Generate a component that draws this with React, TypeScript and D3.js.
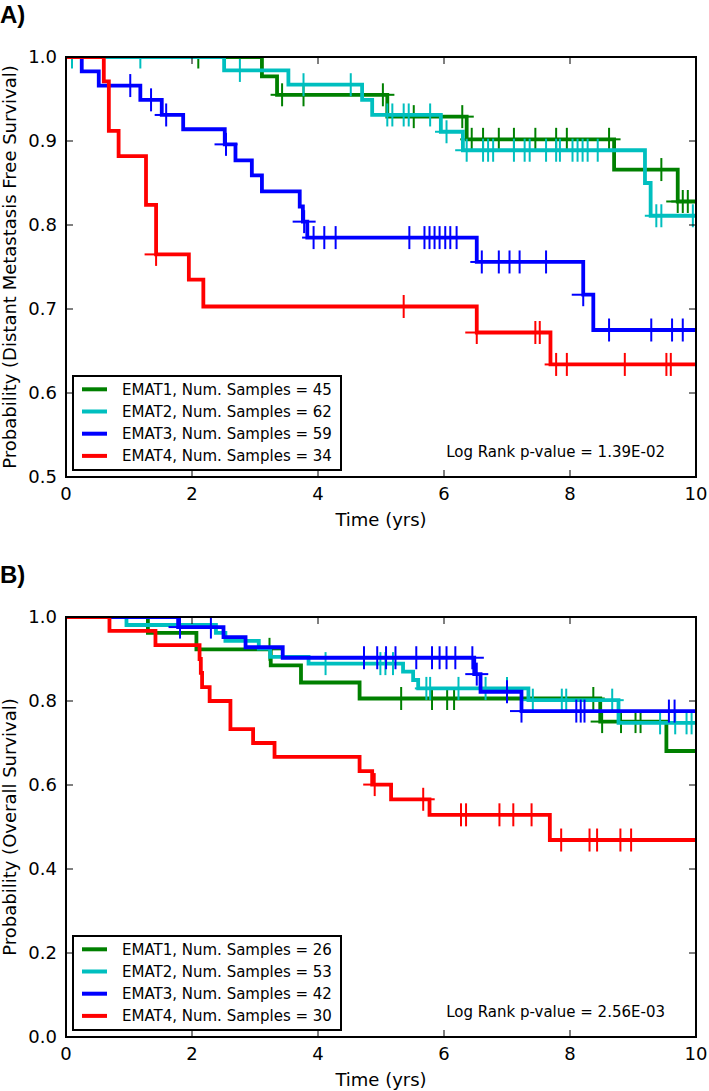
import React from "react";
import * as d3 from "d3";

// ---------- shared axis data ----------
const X_TICKS = [0, 2, 4, 6, 8, 10];
const A_Y_TICKS = [0.5, 0.6, 0.7, 0.8, 0.9, 1.0];
const B_Y_TICKS = [0.0, 0.2, 0.4, 0.6, 0.8, 1.0];
const SERIES_NAMES = ["EMAT1", "EMAT2", "EMAT3", "EMAT4"];
const SERIES_COLORS = ["#008000", "#00BFBF", "#0000FF", "#FF0000"];
const A_SAMPLES = [45, 62, 59, 34];
const B_SAMPLES = [26, 53, 42, 30];
const A_PVALUE = "1.39E-02";
const B_PVALUE = "2.56E-03";

// ---------- Panel A: distant metastasis free survival ----------
const A1_eventTimes = [3.11, 3.35, 5.10, 6.36, 8.70, 9.71];
const A1_eventSurv = [0.977, 0.955, 0.929, 0.902, 0.866, 0.828];
const A1_censor = [2.10, 3.43, 3.77, 5.03, 5.52, 6.29, 6.44, 6.62, 6.87, 7.11, 7.45, 7.78, 7.95, 8.62, 9.45, 9.71, 9.79, 9.87];

const A2_eventTimes = [2.51, 3.53, 4.70, 4.86, 5.95, 6.30, 9.19, 9.28];
const A2_eventSurv = [0.984, 0.967, 0.949, 0.931, 0.911, 0.889, 0.850, 0.811];
const A2_censor = [0.095, 1.18, 2.76, 3.77, 4.52, 5.10, 5.18, 5.36, 5.44, 5.78, 6.04, 6.36, 6.62, 6.70, 6.78, 7.11, 7.28, 7.36, 7.62, 7.78, 7.84, 8.04, 8.12, 8.20, 8.28, 8.44, 9.37, 9.45, 9.95];

const A3_eventTimes = [0.25, 0.52, 1.18, 1.52, 1.86, 2.52, 2.69, 2.95, 3.11, 3.71, 3.76, 3.83, 6.52, 8.21, 8.37];
const A3_eventSurv = [0.983, 0.966, 0.949, 0.931, 0.914, 0.896, 0.877, 0.859, 0.840, 0.822, 0.804, 0.785, 0.756, 0.717, 0.675];
const A3_censor = [1.02, 1.35, 1.59, 2.54, 3.78, 3.93, 4.10, 4.28, 5.45, 5.69, 5.77, 5.85, 5.93, 6.02, 6.10, 6.20, 6.60, 6.87, 7.04, 7.20, 7.62, 8.21, 8.62, 9.29, 9.62, 9.79];

const A4_eventTimes = [0.60, 0.68, 0.835, 1.27, 1.43, 1.95, 2.18, 6.52, 7.69];
const A4_eventSurv = [0.971, 0.912, 0.882, 0.824, 0.765, 0.735, 0.703, 0.672, 0.634];
const A4_censor = [1.43, 5.36, 6.52, 7.45, 7.52, 7.78, 7.95, 8.87, 9.53, 9.60];

// ---------- Panel B: overall survival ----------
const B1_eventTimes = [1.30, 2.07, 3.25, 3.73, 4.66, 8.48, 9.53];
const B1_eventSurv = [0.962, 0.923, 0.885, 0.844, 0.806, 0.751, 0.681];
const B1_censor = [3.23, 5.32, 5.81, 6.05, 6.16, 8.37, 8.51, 8.81, 9.04, 9.12];

const B2_eventTimes = [0.96, 2.38, 2.53, 3.06, 3.24, 3.85, 5.35, 5.51, 5.59, 7.34, 8.77];
const B2_eventSurv = [0.981, 0.962, 0.943, 0.925, 0.905, 0.889, 0.870, 0.850, 0.830, 0.802, 0.748];
const B2_censor = [4.12, 4.99, 5.07, 5.19, 5.72, 5.78, 6.23, 6.66, 7.00, 7.41, 7.87, 7.94, 8.67, 9.43, 9.67, 9.85, 9.93];

const B3_eventTimes = [1.78, 2.50, 2.85, 3.44, 6.48, 6.58, 7.23];
const B3_eventSurv = [0.976, 0.952, 0.928, 0.903, 0.864, 0.822, 0.776];
const B3_censor = [1.81, 2.30, 4.73, 4.94, 5.08, 5.23, 5.56, 5.81, 5.93, 6.04, 6.18, 6.45, 6.52, 7.00, 7.23, 8.10, 8.17, 8.23, 9.57, 9.66];

const B4_eventTimes = [0.69, 1.42, 2.12, 2.14, 2.16, 2.28, 2.61, 2.97, 3.31, 4.66, 4.86, 5.16, 5.77, 7.68];
const B4_eventSurv = [0.967, 0.933, 0.900, 0.867, 0.833, 0.800, 0.733, 0.700, 0.667, 0.633, 0.601, 0.566, 0.529, 0.469];
const B4_censor = [4.90, 5.67, 6.27, 6.35, 6.88, 7.10, 7.39, 7.86, 8.31, 8.43, 8.80, 8.97];

type Series = { times: number[]; surv: number[]; censor: number[] };

const A_SERIES: Series[] = [
  { times: A1_eventTimes, surv: A1_eventSurv, censor: A1_censor },
  { times: A2_eventTimes, surv: A2_eventSurv, censor: A2_censor },
  { times: A3_eventTimes, surv: A3_eventSurv, censor: A3_censor },
  { times: A4_eventTimes, surv: A4_eventSurv, censor: A4_censor },
];
const B_SERIES: Series[] = [
  { times: B1_eventTimes, surv: B1_eventSurv, censor: B1_censor },
  { times: B2_eventTimes, surv: B2_eventSurv, censor: B2_censor },
  { times: B3_eventTimes, surv: B3_eventSurv, censor: B3_censor },
  { times: B4_eventTimes, surv: B4_eventSurv, censor: B4_censor },
];

const FONT = "'DejaVu Sans', sans-serif";
const LEFT = 66;
const RIGHT = 696;
const X_MAX = 10;

function survAt(s: Series, t: number) {
  let v = 1;
  for (let i = 0; i < s.times.length; i++) {
    if (s.times[i] <= t + 1e-9) v = s.surv[i];
  }
  return v;
}

function Panel(props: {
  id: string;
  top: number;
  bottom: number;
  yMin: number;
  yTicks: number[];
  series: Series[];
  samples: number[];
  pvalue: string;
  yLabel: string;
  panelLabel: string;
}) {
  const { id, top, bottom, yMin, yTicks, series, samples, pvalue, yLabel, panelLabel } = props;
  const x = d3.scaleLinear().domain([0, X_MAX]).range([LEFT, RIGHT]);
  const y = d3.scaleLinear().domain([yMin, 1]).range([bottom, top]);
  const line = d3
    .line<[number, number]>()
    .x((d) => x(d[0]))
    .y((d) => y(d[1]))
    .curve(d3.curveStepAfter);
  const half = 11.5;
  const legTop = bottom - 7 - 94;
  const legLeft = 73;
  return (
    <g>
      <defs>
        <clipPath id={`clip-${id}`}>
          <rect x={LEFT} y={top} width={RIGHT - LEFT} height={bottom - top} />
        </clipPath>
      </defs>
      <text x={0} y={top - 34} fontFamily="'Liberation Sans', Arial, sans-serif" fontWeight="bold" fontSize={24}>
        {panelLabel}
      </text>
      <g clipPath={`url(#clip-${id})`}>
        {series.map((s, i) => {
          const pts: [number, number][] = [[0, 1]];
          s.times.forEach((t, k) => pts.push([t, s.surv[k]]));
          pts.push([X_MAX, s.surv[s.surv.length - 1]]);
          return (
            <g key={i}>
              <path d={line(pts) || ""} fill="none" stroke={SERIES_COLORS[i]} strokeWidth={3.8} strokeLinejoin="miter" />
              {s.censor.map((c, k) => {
                const cx = x(c);
                const cy = y(survAt(s, c));
                return (
                  <g key={k} stroke={SERIES_COLORS[i]} strokeWidth={2}>
                    <line x1={cx - half} x2={cx + half} y1={cy} y2={cy} />
                    <line x1={cx} x2={cx} y1={cy - half} y2={cy + half} />
                  </g>
                );
              })}
            </g>
          );
        })}
      </g>
      {/* ticks */}
      {X_TICKS.map((t) => (
        <g key={"xt" + t} stroke="black" strokeWidth={1}>
          <line x1={x(t)} x2={x(t)} y1={bottom} y2={bottom - 7} />
          <line x1={x(t)} x2={x(t)} y1={top} y2={top + 7} />
        </g>
      ))}
      {yTicks.map((t) => (
        <g key={"yt" + t} stroke="black" strokeWidth={1}>
          <line x1={LEFT} x2={LEFT + 7} y1={y(t)} y2={y(t)} />
          <line x1={RIGHT} x2={RIGHT - 7} y1={y(t)} y2={y(t)} />
        </g>
      ))}
      <rect x={LEFT} y={top} width={RIGHT - LEFT} height={bottom - top} fill="none" stroke="black" strokeWidth={2} />
      {X_TICKS.map((t) => (
        <text key={"xl" + t} x={x(t)} y={bottom + 23} textAnchor="middle" fontFamily={FONT} fontSize={18}>
          {String(t)}
        </text>
      ))}
      {yTicks.map((t) => (
        <text key={"yl" + t} x={57} y={y(t)} dy="0.36em" textAnchor="end" fontFamily={FONT} fontSize={18}>
          {t.toFixed(1)}
        </text>
      ))}
      <text x={(LEFT + RIGHT) / 2} y={bottom + 49} textAnchor="middle" fontFamily={FONT} fontSize={18}>
        Time (yrs)
      </text>
      <text
        transform={`translate(16,${(top + bottom) / 2}) rotate(-90)`}
        textAnchor="middle"
        fontFamily={FONT}
        fontSize={18}
      >
        {yLabel}
      </text>
      {/* legend */}
      <rect x={legLeft} y={legTop} width={268} height={94} fill="white" stroke="black" strokeWidth={2} />
      {SERIES_NAMES.map((n, i) => {
        const cy = legTop + 13.3 + 22.2 * i;
        return (
          <g key={"lg" + i}>
            <line x1={legLeft + 9} x2={legLeft + 34} y1={cy} y2={cy} stroke={SERIES_COLORS[i]} strokeWidth={4} />
            <text x={legLeft + 49} y={cy} dy="0.36em" fontFamily={FONT} fontSize={15}>
              {`${n}, Num. Samples = ${samples[i]}`}
            </text>
          </g>
        );
      })}
      <text x={665} y={bottom - 20} textAnchor="end" fontFamily={FONT} fontSize={15}>
        {`Log Rank p-value = ${pvalue}`}
      </text>
    </g>
  );
}

export default function App() {
  return (
    <svg
      width={709}
      height={1091}
      style={{ position: "absolute", left: 0, top: 0, display: "block", background: "white" }}
    >
      <rect x={0} y={0} width={709} height={1091} fill="white" />
      <Panel
        id="a"
        top={57}
        bottom={477}
        yMin={0.5}
        yTicks={A_Y_TICKS}
        series={A_SERIES}
        samples={A_SAMPLES}
        pvalue={A_PVALUE}
        yLabel="Probability (Distant Metastasis Free Survival)"
        panelLabel="A)"
      />
      <Panel
        id="b"
        top={617}
        bottom={1037}
        yMin={0}
        yTicks={B_Y_TICKS}
        series={B_SERIES}
        samples={B_SAMPLES}
        pvalue={B_PVALUE}
        yLabel="Probability (Overall Survival)"
        panelLabel="B)"
      />
    </svg>
  );
}
